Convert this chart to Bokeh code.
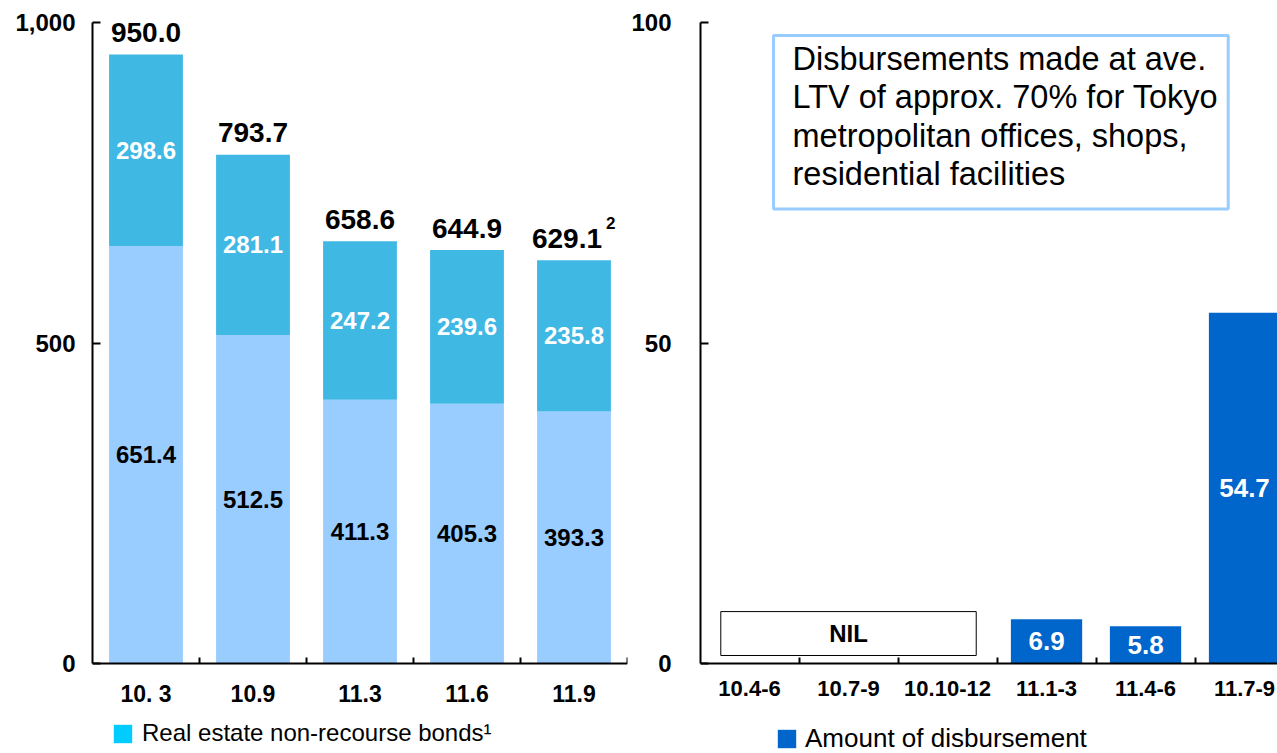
from bokeh.plotting import figure
from bokeh.models import (Range1d, FixedTicker, NumeralTickFormatter, Legend,
                          LegendItem, Label, ColumnDataSource)
from bokeh.layouts import row
from bokeh.core.properties import value
from bokeh.embed import file_html
from bokeh.resources import INLINE

# ---- data: outstanding balance (left) ----
periods = ["10. 3", "10.9", "11.3", "11.6", "11.9"]
lower_vals = [651.4, 512.5, 411.3, 405.3, 393.3]
bond_vals = [298.6, 281.1, 247.2, 239.6, 235.8]
totals = [950.0, 793.7, 658.6, 644.9, 629.1]
total_notes = ["", "", "", "", "2"]

# ---- data: quarterly disbursement (right) ----
quarters = ["10.4-6", "10.7-9", "10.10-12", "11.1-3", "11.4-6", "11.7-9"]
disbursed = [None, None, None, 6.9, 5.8, 54.7]

note_text = ("Disbursements made at ave.\nLTV of approx. 70% for Tokyo\n"
             "metropolitan offices, shops,\nresidential facilities")

FONT = value("Liberation Sans")
LOWER_C = "#99ccff"
BOND_C = "#40b8e4"
BOND_LEGEND_C = "#00ccff"
DISB_C = "#0066cc"

H = 753          # figure height
TOP = 22         # space above the plotting area
AXIS_PX = 641    # height of the value axis in pixels
BELOW_PX = H - TOP - AXIS_PX


def style_axes(p, ymax, xlabel_size, ylabel_standoff):
    p.outline_line_color = None
    p.grid.visible = False
    for ax in (p.xaxis[0], p.yaxis[0]):
        ax.axis_line_width = 2
        ax.axis_line_color = "black"
        ax.major_label_text_font = "Liberation Sans"
        ax.major_label_text_font_style = "bold"
        ax.major_label_text_color = "black"
    xa = p.xaxis[0]
    xa.fixed_location = 0
    xa.major_tick_line_color = None
    xa.major_tick_in = 0
    xa.major_tick_out = 0
    xa.minor_tick_in = 6
    xa.minor_tick_out = 0
    xa.minor_tick_line_width = 2
    xa.minor_tick_line_color = "black"
    xa.major_label_text_font_size = xlabel_size
    xa.major_label_standoff = 17
    ya = p.yaxis[0]
    ya.bounds = (0, ymax)
    ya.major_tick_in = 8
    ya.major_tick_out = 0
    ya.major_tick_line_width = 2
    ya.minor_tick_line_color = None
    ya.major_label_text_font_size = "24px"
    ya.major_label_standoff = ylabel_standoff


def legend_for(renderer, label, loc, font_size, standoff):
    return Legend(items=[LegendItem(label=label, renderers=[renderer])],
                  location=loc, orientation="horizontal",
                  border_line_color=None, background_fill_alpha=0,
                  padding=0, margin=0, glyph_width=23, glyph_height=23,
                  label_standoff=standoff, label_text_font="Liberation Sans",
                  label_text_font_size=font_size, label_text_color="black",
                  label_height=23)


# ================= left chart =================
n = len(periods)
xs = list(range(n))
src = ColumnDataSource(dict(
    x=xs,
    lower=lower_vals,
    total=totals,
    lower_mid=[v / 2 for v in lower_vals],
    bond_mid=[(lo + t) / 2 for lo, t in zip(lower_vals, totals)],
    lower_txt=[f"{v:.1f}" for v in lower_vals],
    bond_txt=[f"{v:.1f}" for v in bond_vals],
))

y1max = 1000
p1 = figure(width=628, height=H, x_range=Range1d(-0.5, n - 0.5),
            y_range=Range1d(-y1max * BELOW_PX / AXIS_PX, y1max),
            output_backend="svg", toolbar_location=None,
            min_border_left=92, min_border_right=1,
            min_border_top=TOP, min_border_bottom=0)

p1.vbar(x="x", bottom=0, top="lower", width=0.69, source=src,
        fill_color=LOWER_C, line_color=None)
p1.vbar(x="x", bottom="lower", top="total", width=0.69, source=src,
        fill_color=BOND_C, line_color=None)

# zero-width copy of the bond segment that only supplies the legend key colour
bond_key = p1.vbar(x="x", bottom="lower", top="total", width=0, source=src,
                   fill_color=BOND_LEGEND_C, line_color=None)

p1.text(x="x", y="lower_mid", text="lower_txt", source=src, text_align="center",
        text_baseline="middle", text_font=FONT, text_font_style="bold",
        text_font_size="24px", text_color="black")
p1.text(x="x", y="bond_mid", text="bond_txt", source=src, text_align="center",
        text_baseline="middle", text_font=FONT, text_font_style="bold",
        text_font_size="24px", text_color="white")

# totals above the stacks, with footnote marks where present
tot_x_off = [-7 if note else 0 for note in total_notes]
p1.text(x=xs, y=totals, text=[f"{v:.1f}" for v in totals], x_offset=tot_x_off,
        y_offset=-22, text_align="center", text_baseline="alphabetic",
        text_font=FONT, text_font_style="bold", text_font_size="28px",
        text_color="black")
note_idx = [i for i, note in enumerate(total_notes) if note]
p1.text(x=note_idx, y=[totals[i] for i in note_idx],
        text=[total_notes[i] for i in note_idx], x_offset=32, y_offset=-37,
        text_align="left", text_baseline="alphabetic", text_font=FONT,
        text_font_style="bold", text_font_size="17px", text_color="black")

style_axes(p1, y1max, "23px", 17)
p1.xaxis[0].ticker = FixedTicker(ticks=xs, minor_ticks=[i + 0.5 for i in xs])
p1.xaxis[0].major_label_overrides = {i: lab for i, lab in enumerate(periods)}
p1.yaxis[0].ticker = FixedTicker(ticks=[0, 500, 1000], minor_ticks=[])
p1.yaxis[0].formatter = NumeralTickFormatter(format="0,0")

p1.add_layout(legend_for(bond_key, "Real estate non-recourse bonds\u00b9",
                         (19, 6), "24px", 8))

# ================= right chart =================
m = len(quarters)
qx = list(range(m))
has = [i for i, v in enumerate(disbursed) if v is not None]
nil = [i for i, v in enumerate(disbursed) if v is None]
dsrc = ColumnDataSource(dict(
    x=has,
    top=[disbursed[i] for i in has],
    mid=[disbursed[i] / 2 for i in has],
    txt=[f"{disbursed[i]:.1f}" for i in has],
))

y2max = 100
p2 = figure(width=649, height=H, x_range=Range1d(-0.495, 5.333),
            y_range=Range1d(-y2max * BELOW_PX / AXIS_PX, y2max),
            output_backend="svg", toolbar_location=None,
            min_border_left=72, min_border_right=0,
            min_border_top=TOP, min_border_bottom=0)

bars = p2.vbar(x="x", top="top", width=0.72, source=dsrc,
               fill_color=DISB_C, line_color=None)
p2.text(x="x", y="mid", text="txt", source=dsrc, text_align="center",
        text_baseline="middle", text_font=FONT, text_font_style="bold",
        text_font_size="26px", text_color="white")

# box marking the quarters with no disbursement
p2.quad(left=[nil[0] - 0.29], right=[nil[-1] + 0.29], bottom=[1.25], top=[8.1],
        fill_color="white", line_color="black", line_width=1)
p2.text(x=[(nil[0] + nil[-1]) / 2], y=[4.7], text=["NIL"], text_align="center",
        text_baseline="middle", text_font=FONT, text_font_style="bold",
        text_font_size="24px", text_color="black")

style_axes(p2, y2max, "22px", 29)
p2.xaxis[0].ticker = FixedTicker(ticks=qx, minor_ticks=[i + 0.5 for i in qx[:-1]])
p2.xaxis[0].major_label_overrides = {i: lab for i, lab in enumerate(quarters)}
p2.yaxis[0].ticker = FixedTicker(ticks=[0, 50, 100], minor_ticks=[])

p2.add_layout(Label(x=73, y=H - 35, x_units="screen", y_units="screen",
                    text=note_text, anchor="top_left", text_align="left",
                    text_font="Liberation Sans", text_font_size="32.5px",
                    text_line_height=1.07, text_color="black",
                    border_line_color="#99ccff", border_line_width=3,
                    background_fill_color="white",
                    padding=dict(left=19, right=10, top=5, bottom=17)))

p2.add_layout(legend_for(bars, "Amount of disbursement", (75, -1), "26px", 7))

layout = row(p1, p2)
open("out.html", "w").write(file_html(layout, INLINE))
